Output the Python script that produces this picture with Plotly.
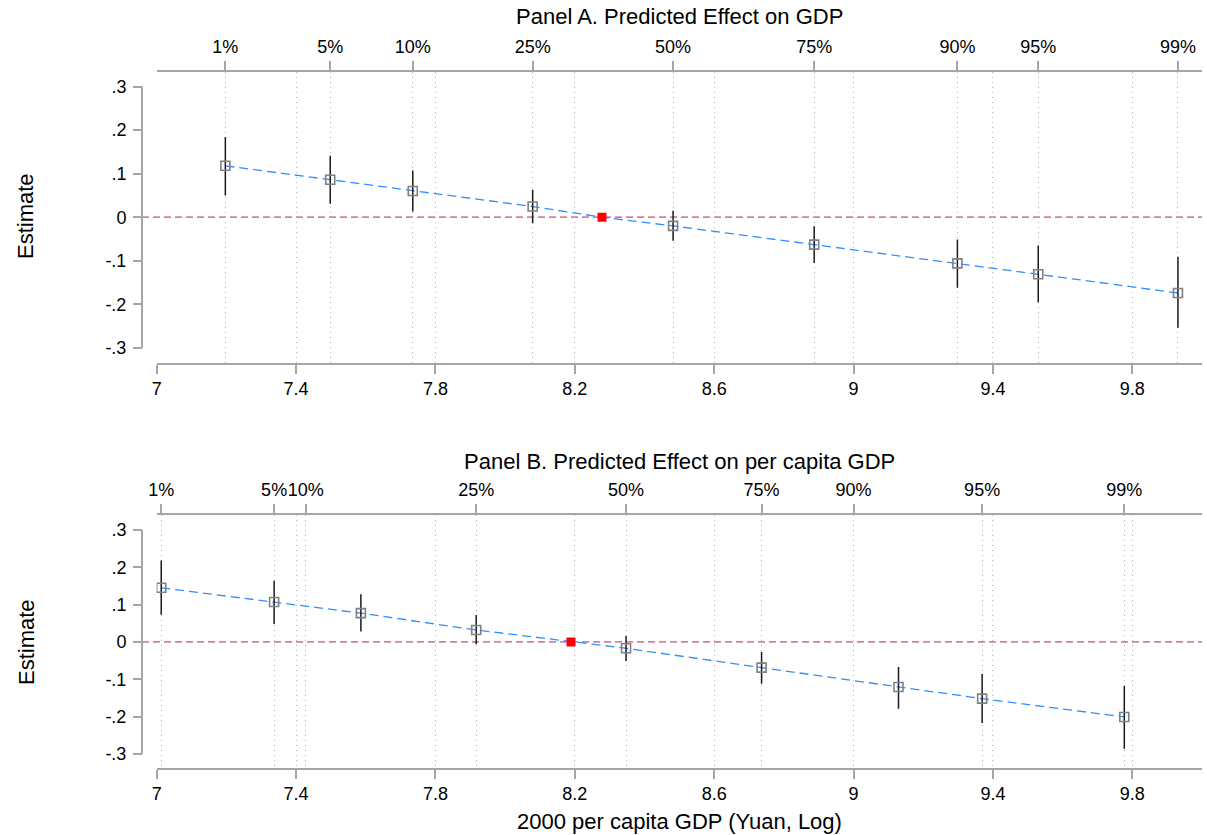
import plotly.graph_objects as go

W, H = 1207, 835

# ---------------- data ----------------
pct_labels = ["1%", "5%", "10%", "25%", "50%", "75%", "90%", "95%", "99%"]
x_ticks = [7, 7.4, 7.8, 8.2, 8.6, 9, 9.4, 9.8]
x_ticktext = ["7", "7.4", "7.8", "8.2", "8.6", "9", "9.4", "9.8"]
y_ticks = [-0.3, -0.2, -0.1, 0, 0.1, 0.2, 0.3]
y_ticktext = ["-.3", "-.2", "-.1", "0", ".1", ".2", ".3"]

# Panel A
A_pct_x = [7.197, 7.498, 7.735, 8.079, 8.482, 8.887, 9.298, 9.530, 9.931]
A_point_x = [7.197, 7.498, 7.735, 8.079, 8.482, 8.887, 9.298, 9.530, 9.931]
A_est = [0.118, 0.086, 0.060, 0.0245, -0.020, -0.063, -0.106, -0.131, -0.174]
A_hi = [0.184, 0.141, 0.107, 0.063, 0.015, -0.021, -0.051, -0.065, -0.091]
A_lo = [0.050, 0.031, 0.013, -0.014, -0.054, -0.105, -0.162, -0.195, -0.254]
A_zero_x = 8.278

# Panel B
B_pct_x = [7.013, 7.337, 7.428, 7.917, 8.347, 8.736, 9.000, 9.369, 9.777]
B_point_x = [7.013, 7.337, 7.586, 7.917, 8.347, 8.736, 9.129, 9.369, 9.777]
B_est = [0.145, 0.107, 0.077, 0.032, -0.017, -0.069, -0.121, -0.152, -0.201]
B_hi = [0.218, 0.164, 0.128, 0.072, 0.016, -0.027, -0.067, -0.086, -0.118]
B_lo = [0.073, 0.048, 0.028, -0.006, -0.051, -0.112, -0.179, -0.217, -0.286]
B_zero_x = 8.189

# ---------------- layout geometry ----------------
FONT = "Liberation Sans, Arial, sans-serif"
AXCOL = "#A6A6A6"
GRIDCOL = "#B4B4B4"
GRIDDASH = "1px,4px"
TICKSIZE = 18
TITLESIZE = 22
x0p, x1p = 156.7 / W, 1202 / W
yaxis_pos = 142 / W

panels = [
    dict(px=A_pct_x, ptx=A_point_x, est=A_est, hi=A_hi, lo=A_lo, zx=A_zero_x,
         dom=[1 - 362.7 / H, 1 - 71.7 / H], yr=[-0.334, 0.334],
         title="Panel A. Predicted Effect on GDP", ty=1 - 17 / H, ey=1 - 216 / H),
    dict(px=B_pct_x, ptx=B_point_x, est=B_est, hi=B_hi, lo=B_lo, zx=B_zero_x,
         dom=[1 - 767.7 / H, 1 - 515 / H], yr=[-0.337, 0.340],
         title="Panel B. Predicted Effect on per capita GDP", ty=1 - 462 / H, ey=1 - 642 / H),
]

fig = go.Figure()
shapes, annotations = [], []
layout = {}

for i, p in enumerate(panels):
    xb = "x" if i == 0 else "x3"
    xt = "x2" if i == 0 else "x4"
    yy = "y" if i == 0 else "y2"
    xb_key = "xaxis" if i == 0 else "xaxis3"
    xt_key = "xaxis2" if i == 0 else "xaxis4"
    y_key = "yaxis" if i == 0 else "yaxis2"

    # invisible trace so the top (percentile) axis is drawn
    fig.add_trace(go.Scatter(
        x=p["px"], y=[0] * len(p["px"]), mode="markers", marker=dict(opacity=0),
        xaxis=xt, yaxis=yy, showlegend=False, hoverinfo="skip"))
    # fitted dashed line (points + zero point)
    pts = sorted(zip(p["ptx"] + [p["zx"]], p["est"] + [0.0]))
    fig.add_trace(go.Scatter(
        x=[a for a, b in pts], y=[b for a, b in pts], mode="lines",
        line=dict(color="#2F8FFF", width=1.3, dash="9px,5px"),
        xaxis=xb, yaxis=yy, showlegend=False, hoverinfo="skip"))
    # estimates with CIs
    fig.add_trace(go.Scatter(
        x=p["ptx"], y=p["est"], mode="markers",
        marker=dict(symbol="square-open", size=9, color="#808080", line=dict(width=1.6, color="#808080")),
        error_y=dict(type="data", symmetric=False,
                     array=[h - e for h, e in zip(p["hi"], p["est"])],
                     arrayminus=[e - l for e, l in zip(p["est"], p["lo"])],
                     color="#1a1a1a", thickness=1.5, width=0),
        xaxis=xb, yaxis=yy, showlegend=False))
    # zero-effect point
    fig.add_trace(go.Scatter(
        x=[p["zx"]], y=[0], mode="markers",
        marker=dict(symbol="square", size=9, color="#FF0000"),
        xaxis=xb, yaxis=yy, showlegend=False))

    layout[xb_key] = dict(
        domain=[x0p, x1p], anchor=yy, range=[7, 10], automargin=False,
        tickvals=x_ticks, ticktext=x_ticktext, tickangle=0,
        ticks="outside", ticklen=9, tickcolor=AXCOL, tickwidth=1.5,
        showline=True, linecolor=AXCOL, linewidth=2,
        showgrid=True, gridcolor=GRIDCOL, griddash=GRIDDASH, gridwidth=1,
        zeroline=False, ticklabelstandoff=0,
        tickfont=dict(size=TICKSIZE, color="black", family=FONT))
    layout[xt_key] = dict(
        overlaying=xb, side="top", anchor=yy, range=[7, 10], automargin=False,
        tickvals=p["px"], ticktext=pct_labels, tickangle=0,
        ticks="outside", ticklen=9, tickcolor=AXCOL, tickwidth=1.5,
        showline=True, linecolor=AXCOL, linewidth=2,
        showgrid=True, gridcolor=GRIDCOL, griddash=GRIDDASH, gridwidth=1,
        zeroline=False, ticklabelstandoff=1,
        tickfont=dict(size=TICKSIZE, color="black", family=FONT))
    layout[y_key] = dict(
        domain=p["dom"], range=p["yr"], anchor="free", position=yaxis_pos, automargin=False,
        tickvals=y_ticks, ticktext=y_ticktext,
        ticks="outside", ticklen=9, tickcolor=AXCOL, tickwidth=1.5,
        showline=False, showgrid=False, zeroline=False, ticklabelstandoff=3,
        tickfont=dict(size=TICKSIZE, color="black", family=FONT))

    shapes.append(dict(type="line", xref="paper", yref=yy, x0=yaxis_pos, x1=yaxis_pos,
                       y0=-0.3, y1=0.3, line=dict(color=AXCOL, width=2)))
    shapes.append(dict(type="line", xref="paper", yref=yy, x0=yaxis_pos, x1=x1p,
                       y0=0, y1=0, line=dict(color="#D280A8", width=1.8, dash="7px,4px"),
                       layer="below"))
    annotations.append(dict(text=p["title"], xref="paper", yref="paper",
                            x=(x0p + x1p) / 2, y=p["ty"], xanchor="center", yanchor="middle",
                            showarrow=False,
                            font=dict(size=TITLESIZE, color="black", family=FONT)))
    annotations.append(dict(text="Estimate", xref="paper", yref="paper",
                            x=26 / W, y=p["ey"], xanchor="center", yanchor="middle",
                            textangle=-90, showarrow=False,
                            font=dict(size=TITLESIZE, color="black", family=FONT)))

annotations.append(dict(text="2000 per capita GDP (Yuan, Log)", xref="paper", yref="paper",
                        x=(x0p + x1p) / 2, y=1 - 821 / H, xanchor="center", yanchor="middle",
                        showarrow=False,
                        font=dict(size=TITLESIZE, color="black", family=FONT)))

fig.update_layout(
    width=W, height=H, margin=dict(l=0, r=0, t=0, b=0, autoexpand=False),
    paper_bgcolor="white", plot_bgcolor="white",
    shapes=shapes, annotations=annotations, showlegend=False,
    font=dict(family=FONT), **layout)

fig.write_html("out.html", config={"displayModeBar": False},
               post_script="document.body.style.margin='0px';")
